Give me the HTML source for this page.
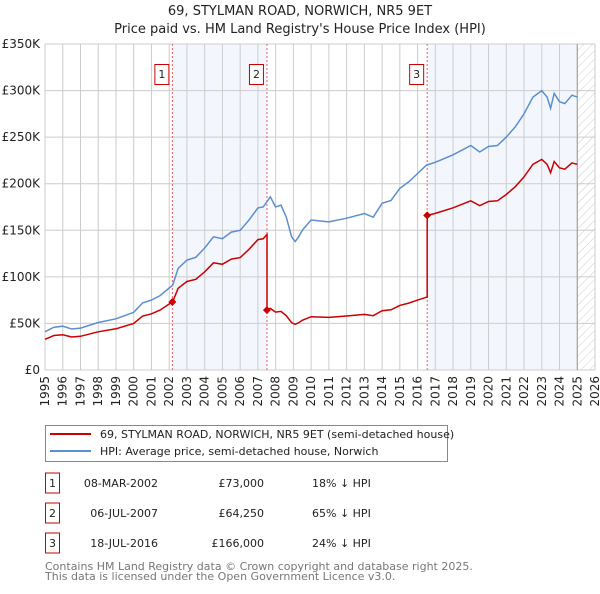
<!DOCTYPE html>
<html><head><meta charset="utf-8"><style>
body{margin:0;background:#fff;font-family:"DejaVu Sans","Liberation Sans",sans-serif;}
svg text{font-family:"DejaVu Sans","Liberation Sans",sans-serif;}
</style></head><body>
<svg id="c" width="600" height="590" xmlns="http://www.w3.org/2000/svg">
<defs><pattern id="hatch" width="6" height="6" patternUnits="userSpaceOnUse" patternTransform="rotate(45)"><line x1="0" y1="0" x2="0" y2="6" stroke="#ccc" stroke-width="1"/></pattern></defs>
<text x="300" y="15" text-anchor="middle" font-size="13" fill="#222">69, STYLMAN ROAD, NORWICH, NR5 9ET</text>
<text x="300" y="33" text-anchor="middle" font-size="13" fill="#222">Price paid vs. HM Land Registry's House Price Index (HPI)</text>
<g id="plot"></g>
<g>
<rect x="45.5" y="425.5" width="402" height="36" fill="#fff" stroke="#888"/>
<line x1="50" y1="434" x2="91" y2="434" stroke="#cc0000" stroke-width="2"/>
<text x="100" y="438" font-size="11" fill="#222">69, STYLMAN ROAD, NORWICH, NR5 9ET (semi-detached house)</text>
<line x1="50" y1="451" x2="91" y2="451" stroke="#5b8fcf" stroke-width="2"/>
<text x="100" y="455" font-size="11" fill="#222">HPI: Average price, semi-detached house, Norwich</text>
</g>
<g id="table"></g>
<text x="45" y="570" font-size="11" fill="#777">Contains HM Land Registry data © Crown copyright and database right 2025.</text>
<text x="45" y="580" font-size="11" fill="#777">This data is licensed under the Open Government Licence v3.0.</text>
</svg>
<script>
const hpiYears=[1995,1995.5,1996,1996.5,1997,1998,1999,2000,2000.5,2001,2001.5,2002,2002.2,2002.5,2003,2003.5,2004,2004.5,2005,2005.5,2006,2006.5,2007,2007.3,2007.7,2008,2008.3,2008.6,2008.9,2009.1,2009.3,2009.5,2010,2011,2012,2013,2013.5,2014,2014.5,2015,2015.5,2016,2016.5,2017,2018,2019,2019.5,2020,2020.5,2021,2021.5,2022,2022.5,2023,2023.3,2023.5,2023.7,2024,2024.3,2024.7,2025];
const hpiValues=[41,46,47,44,45,51,55,62,72,75,80,88,91,109,118,121,131,143,141,148,150,161,174,175,186,175,177,164,143,138,143,150,161,159,163,168,164,179,182,195,202,211,220,223,231,241,234,240,241,250,261,275,293,300,293,281,297,288,286,295,293];
const saleLabels=["1","2","3"];
const saleYears=[2002.18,2007.51,2016.54];
const saleDates=["08-MAR-2002","06-JUL-2007","18-JUL-2016"];
const salePrices=[73000,64250,166000];
const saleDiffs=["18% ↓ HPI","65% ↓ HPI","24% ↓ HPI"];
const yTicks=[0,50,100,150,200,250,300,350];
const yTickLabels=["£0","£50K","£100K","£150K","£200K","£250K","£300K","£350K"];
const xTicks=[];for(let y=1995;y<=2026;y++)xTicks.push(y);

const NS="http://www.w3.org/2000/svg";
const X0=45,X1=595,Y0=370,Y1=44;
const xs=y=>X0+(y-1995)/(2026-1995)*(X1-X0);
const ys=v=>Y0-v/350*(Y0-Y1);
function mk(tag,attrs,parent){const e=document.createElementNS(NS,tag);for(const k in attrs)e.setAttribute(k,attrs[k]);parent.appendChild(e);return e;}
function hpiAt(t){for(let i=0;i<hpiYears.length-1;i++){if(t<=hpiYears[i+1]){const f=(t-hpiYears[i])/(hpiYears[i+1]-hpiYears[i]);return hpiValues[i]+f*(hpiValues[i+1]-hpiValues[i]);}}return hpiValues[hpiValues.length-1];}
const plot=document.getElementById('plot');
// shading
const sh1=mk('rect',{x:xs(saleYears[0]),y:Y1,width:xs(saleYears[1])-xs(saleYears[0]),height:Y0-Y1,fill:'#eef3fc',opacity:0.7},plot);


const sh2=mk('rect',{x:xs(saleYears[2]),y:Y1,width:xs(2025)-xs(saleYears[2]),height:Y0-Y1,fill:'#eef3fc',opacity:0.7},plot);


const hz=mk('rect',{x:xs(2025),y:Y1,width:xs(2026)-xs(2025),height:Y0-Y1,fill:'url(#hatch)'},plot);


// grid
xTicks.forEach(t=>{const l=mk('line',{x1:xs(t),x2:xs(t),y1:Y1,y2:Y0,stroke:'#ccc','stroke-width':1},plot);


const tx=mk('text',{x:0,y:0,transform:`translate(${xs(t)+4},${Y0+6}) rotate(-90)`,'text-anchor':'end','font-size':12,fill:'#222'},plot);tx.textContent=t;

});
yTicks.forEach((t,i)=>{const l=mk('line',{x1:X0,x2:X1,y1:ys(t),y2:ys(t),stroke:'#ccc','stroke-width':1},plot);


const tx=mk('text',{x:40,y:ys(t)+4,'text-anchor':'end','font-size':12,fill:'#222'},plot);tx.textContent=yTickLabels[i];

});
mk('line',{x1:xs(2025),x2:xs(2025),y1:Y1,y2:Y0,stroke:'#999','stroke-width':1},plot);
// sale lines
saleYears.forEach((s,i)=>{const l=mk('line',{x1:xs(s),x2:xs(s),y1:Y1,y2:Y0,stroke:'#f06060','stroke-width':1,'stroke-dasharray':'2,2'},plot);


const r=mk('rect',{x:xs(s)-17.5,y:64.5,width:14,height:20,fill:'#fff',stroke:'#cc0000'},plot);


const t=mk('text',{x:xs(s)-10.5,y:78,'text-anchor':'middle','font-size':11,fill:'#222'},plot);t.textContent=saleLabels[i];});
// hpi line
let d='';hpiYears.forEach((y,i)=>{d+=(i?'L':'M')+xs(y).toFixed(1)+','+ys(hpiValues[i]).toFixed(1);});
const hp=mk('path',{d:d,fill:'none',stroke:'#5b8fcf','stroke-width':1.5},plot);


// property line: HPI indexed to each sale
const bounds=[1995,...saleYears,2025];
let pd='';
for(let seg=0;seg<bounds.length-1;seg++){
  const si=Math.max(0,seg-1);const ratio=(salePrices[si]/1000)/hpiAt(saleYears[si]);
  const pts=[bounds[seg],...hpiYears.filter(y=>y>bounds[seg]&&y<bounds[seg+1]),bounds[seg+1]];
  pts.forEach((y,j)=>{const v=hpiAt(y)*ratio;pd+=((seg===0&&j===0)?'M':'L')+xs(y).toFixed(1)+','+ys(v).toFixed(1);});
}
const pp=mk('path',{d:pd,fill:'none',stroke:'#cc0000','stroke-width':1.5},plot);


saleYears.forEach((s,i)=>{const cx=xs(s),cy=ys(salePrices[i]/1000);
const p=mk('path',{d:`M${cx-4},${cy}L${cx},${cy-4}L${cx+4},${cy}L${cx},${cy+4}Z`,fill:'#cc0000'},plot);

});
// table
const tb=document.getElementById('table');
saleYears.forEach((s,i)=>{const cy=483+i*30;
const r=mk('rect',{x:45.5,y:cy-10,width:14,height:20,fill:'#fff',stroke:'#cc0000'},tb);


const a=mk('text',{x:52.5,y:cy+4,'text-anchor':'middle','font-size':11,fill:'#222'},tb);a.textContent=saleLabels[i];
const b=mk('text',{x:158,y:cy+4,'text-anchor':'end','font-size':11,fill:'#222'},tb);b.textContent=saleDates[i];


const c=mk('text',{x:264,y:cy+4,'text-anchor':'end','font-size':11,fill:'#222'},tb);c.textContent='£'+salePrices[i].toLocaleString('en-GB');


const e=mk('text',{x:312,y:cy+4,'font-size':11,fill:'#222'},tb);e.textContent=saleDiffs[i];

});
</script>
</body></html>
